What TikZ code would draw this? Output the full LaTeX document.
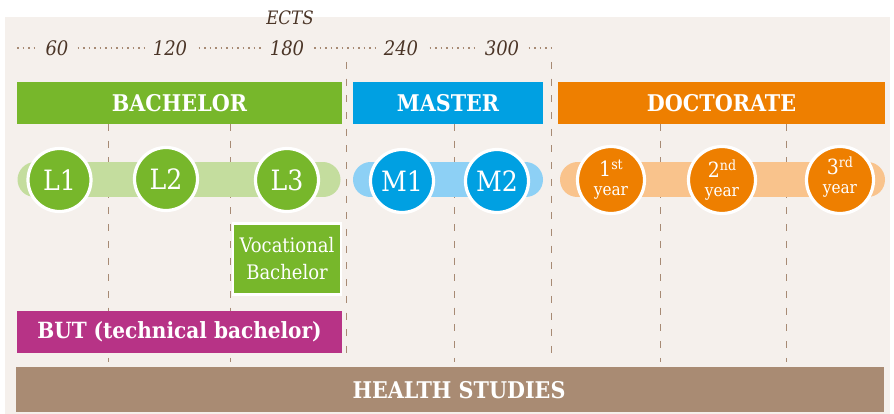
\documentclass[tikz,border=0pt]{standalone}
\usepackage{fontspec}
\setmainfont{DejaVu Serif Condensed}
\definecolor{bgc}{HTML}{F5F0EC}
\definecolor{grn}{HTML}{77B72B}
\definecolor{lgrn}{HTML}{C4DD9E}
\definecolor{blu}{HTML}{00A0E2}
\definecolor{lblu}{HTML}{8DD0F5}
\definecolor{org}{HTML}{EE7F00}
\definecolor{lorg}{HTML}{F9C38C}
\definecolor{mag}{HTML}{B73386}
\definecolor{hbar}{HTML}{A98B73}
\definecolor{guide}{HTML}{A78A74}
\definecolor{numc}{HTML}{4B3527}
\newcommand{\yeartxt}[2]{{\fontsize{21}{21}\selectfont #1}\raisebox{7pt}{\fontsize{14}{14}\selectfont #2}\\[-1pt]year}
\begin{document}
\begin{tikzpicture}[x=1pt,y=-1pt,
  guideline/.style={guide,line width=1pt,dash pattern=on 7pt off 9.7pt},
  dotline/.style={guide,line width=1.8pt,dash pattern=on 1.8pt off 3.7pt},
  num/.style={fill=bgc,inner xsep=8pt,inner ysep=2pt,text=numc,font=\fontsize{20}{22}\selectfont\itshape},
  bar/.style={minimum height=42pt,inner sep=0pt,text=white,font=\fontsize{23}{24}\selectfont\bfseries},
  pill/.style={line width=35pt,line cap=round},
  stepcirc/.style={circle,draw=white,line width=3.2pt,minimum size=63pt,inner sep=0pt,text=white,font=\fontsize{28}{30}\selectfont},
  yearcirc/.style={circle,draw=white,line width=3.2pt,fill=org,minimum size=67pt,inner sep=0pt,text=white,align=center,font=\fontsize{17}{20}\selectfont},
  yeartext/.style={inner sep=0pt,text=white,align=center,font=\fontsize{17}{20}\selectfont},
]
\useasboundingbox (0,0) rectangle (894,414);
\fill[bgc] (5,17) rectangle (890,414);
% guide lines
\foreach \gx in {346,551} \draw[guideline] (\gx,62) -- (\gx,362);
\foreach \gx in {108,230,454,660,786} \draw[guideline] (\gx,124) -- (\gx,362);
% ECTS scale
\node[text=numc,font=\fontsize{18.5}{20}\selectfont\itshape] (ects) at (290,18) {ECTS};
\coordinate (dl) at (17,48);
\coordinate (dr) at (552,48);
\draw[dotline] (dl) -- (dr);
\node[num] (n60) at (57,48) {60};
\node[num] (n120) at (170,48) {120};
\node[num] (n180) at (287,48) {180};
\node[num] (n240) at (401,48) {240};
\node[num] (n300) at (502,48) {300};
% header bars
\node[bar,fill=grn,minimum width=325pt] (bach) at (179.5,103) {BACHELOR};
\node[bar,fill=blu,minimum width=190pt] (mast) at (448,103) {MASTER};
\node[bar,fill=org,minimum width=327pt] (doct) at (721.5,103) {DOCTORATE};
% pills
\coordinate (pg1) at (35,180); \coordinate (pg2) at (323,180);
\coordinate (pb1) at (370.5,180); \coordinate (pb2) at (525.5,180);
\coordinate (po1) at (577.5,180); \coordinate (po2) at (867.5,180);
\draw[pill,lgrn] (pg1) -- (pg2);
\draw[pill,lblu] (pb1) -- (pb2);
\draw[pill,lorg] (po1) -- (po2);
% circles
\node[stepcirc,fill=grn] (L1) at (59.5,180) {L1};
\node[stepcirc,fill=grn] (L2) at (166,179) {L2};
\node[stepcirc,fill=grn] (L3) at (287,180) {L3};
\node[stepcirc,fill=blu] (M1) at (402,181) {M1};
\node[stepcirc,fill=blu] (M2) at (497,181) {M2};
\node[yearcirc] (Y1) at (611,180) {\yeartxt{1}{st}};
\node[yearcirc] (Y2) at (722,180) {\yeartxt{2}{nd}};
\node[yearcirc] (Y3) at (840,180) {};
\node[yeartext] (Y3t) at ([yshift=3pt]Y3.center) {\yeartxt{3}{rd}};
% vocational bachelor
\node[fill=grn,draw=white,line width=2.5pt,minimum width=108pt,minimum height=71pt,inner sep=0pt,align=center,text=white,font=\fontsize{20}{27}\selectfont] (voc) at (287,259) {Vocational\\Bachelor};
% BUT
\node[bar,fill=mag,minimum width=325pt,font=\fontsize{22.3}{24}\selectfont\bfseries] (but) at (179.5,332) {BUT (technical bachelor)};
% health studies
\fill[hbar] (16,367) rectangle (884,412);
\node[text=white,font=\fontsize{23}{24}\selectfont\bfseries] (health) at (459,390) {HEALTH STUDIES};
\end{tikzpicture}
\end{document}
